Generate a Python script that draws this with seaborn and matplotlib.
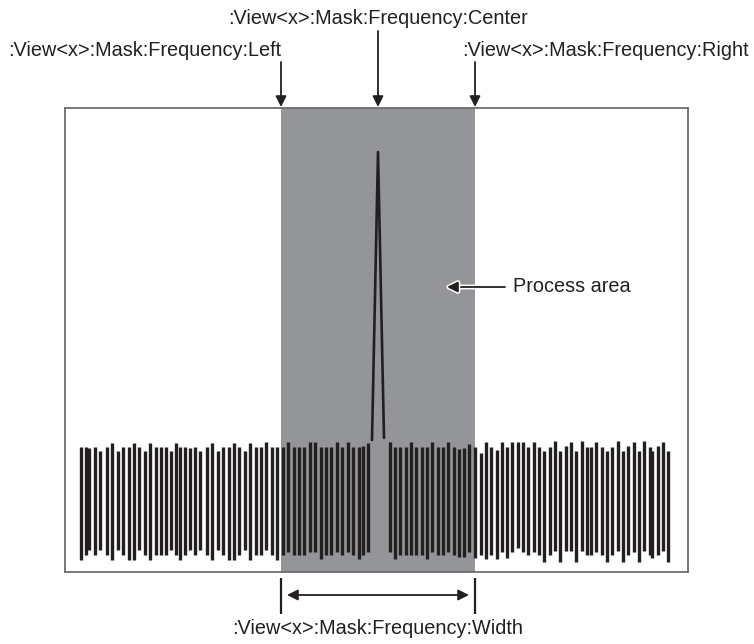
import matplotlib
matplotlib.use("Agg")
import matplotlib.pyplot as plt
import matplotlib.patheffects as pe
import seaborn as sns
import pandas as pd

# ---- data (pixel-like frequency / amplitude units) ----
noise_freq = [80.7, 86.0, 89.3, 94.7, 100.0, 106.7, 112.3, 118.0, 123.3, 129.0, 134.3, 139.3,
              145.0, 150.3, 156.0, 161.3, 166.3, 171.0, 175.7, 180.3, 185.3, 190.0, 194.7, 200.0,
              206.7, 212.3, 217.7, 223.3, 228.7, 234.3, 239.3, 245.0, 250.3, 255.7, 261.0, 266.3,
              271.7, 277.0,
              282.7, 288.3, 293.7, 299.0, 304.3, 310.0, 315.3, 320.7, 326.0, 331.3, 336.7, 342.0,
              347.7, 353.0, 358.7, 363.3, 368.3,
              389.7, 395.0, 400.3, 405.7, 411.0, 416.3, 421.7, 427.0, 432.3, 437.7, 443.0, 448.3,
              453.7, 459.0,
              464.0, 469.3, 475.0, 480.7, 486.0, 491.3, 496.7, 501.7, 507.0, 512.3, 517.7, 523.0,
              528.3, 533.7, 539.0, 544.3, 549.7, 555.0, 560.3, 565.7, 571.0, 576.3, 581.7, 587.0,
              591.0, 596.3, 601.7, 607.0, 612.3, 617.7, 623.0, 628.3, 633.7, 639.0, 644.3, 649.7,
              652.3, 657.7, 663.0, 668.3]
noise_top = [446.7, 446.7, 447.7, 446.7, 450.7, 446.7, 443.3, 450.7, 446.7, 446.7, 443.3, 446.7,
             450.7, 443.3, 446.7, 446.7, 446.7, 450.7, 443.3, 446.7, 446.7, 448.3, 446.7, 450.7,
             446.7, 443.3, 450.7, 446.7, 446.7, 443.3, 446.7, 450.7, 443.3, 446.7, 446.7, 442.3,
             446.7, 446.7,
             446.7, 442.3, 446.7, 446.7, 446.7, 442.3, 442.3, 446.7, 446.7, 446.7, 442.3, 446.7,
             442.3, 446.7, 446.7, 445.7, 443.3,
             442.3, 446.7, 446.7, 446.7, 442.3, 446.7, 446.7, 446.7, 442.3, 446.7, 446.7, 442.3,
             446.7, 449.0,
             448.3, 444.0, 446.7, 453.3, 442.3, 446.7, 450.0, 442.3, 446.7, 442.3, 442.3, 442.3,
             446.7, 442.3, 446.7, 451.0, 446.7, 441.0, 451.0, 445.7, 442.3, 451.0, 441.0, 446.7,
             446.7, 442.3, 446.7, 451.0, 446.7, 441.0, 451.0, 445.7, 442.3, 451.0, 441.0, 446.7,
             451.0, 445.7, 442.3, 451.0]
noise_bottom = [560, 555, 550, 555, 550, 555, 560, 550, 555, 560, 560, 550,
                555, 560, 555, 555, 555, 550, 555, 560, 555, 550, 555, 550,
                555, 560, 550, 555, 560, 560, 555, 550, 560, 555, 555, 550,
                555, 560,
                555, 551.7, 555, 555, 555, 551.7, 551.7, 559.3, 555, 555, 551.7, 555,
                551.7, 555, 559.3, 555, 551.7,
                551.7, 559.3, 555, 555, 555, 555, 555, 559.3, 551.7, 555, 555, 551.7,
                555, 557.3,
                556.7, 551.7, 558.3, 555, 559.3, 555, 559.3, 551.7, 558.3, 551.7, 548.3, 551.7,
                555, 551.7, 555, 561.7, 555, 550.7, 561.7, 550.7, 550.7, 561.7, 550.7, 555,
                555, 551.7, 555, 561.7, 555, 550.7, 561.7, 555, 551.7, 561.7, 550.7, 555,
                558.3, 555, 550.7, 561.7]

peak_freq = [372, 378, 384]
peak_amp = [440, 152, 438]

mask_left, mask_center, mask_right = 281, 378, 475

label_center = ":View<x>:Mask:Frequency:Center"
label_left = ":View<x>:Mask:Frequency:Left"
label_right = ":View<x>:Mask:Frequency:Right"
label_width = ":View<x>:Mask:Frequency:Width"
label_area = "Process area"

# ---- style ----
sns.set_theme(style="white")
plt.rcParams["font.family"] = ["Liberation Sans", "DejaVu Sans"]

W, H = 754, 644
fig = plt.figure(figsize=(W / 100, H / 100), dpi=100)
box_l, box_r, box_t, box_b = 65, 688, 108, 572
ax = fig.add_axes([box_l / W, 1 - box_b / H, (box_r - box_l) / W, (box_b - box_t) / H])
ax.set_xlim(box_l, box_r)
ax.set_ylim(box_b, box_t)
ax.set_xticks([])
ax.set_yticks([])
for s in ax.spines.values():
    s.set_color("#6d6e71")
    s.set_linewidth(1.3)

ink = "#231f20"
ax.axvspan(mask_left, mask_right, color="#939598", lw=0, zorder=0)
ax.vlines(noise_freq, noise_top, noise_bottom, colors=ink, linewidth=2.4, zorder=2)

peak_df = pd.DataFrame({"freq": peak_freq, "amp": peak_amp})
sns.lineplot(data=peak_df, x="freq", y="amp", sort=False, estimator=None,
             color=ink, linewidth=1.9, ax=ax, legend=False, zorder=3)
ax.set_xlabel("")
ax.set_ylabel("")

fs = 14.3
arrow_kw = dict(arrowstyle="-|>", color=ink, lw=1.3, mutation_scale=16,
                shrinkA=0, shrinkB=0)

# top labels and arrows
ax.text(mask_center, 18, label_center, ha="center", va="center", fontsize=fs,
        color=ink, clip_on=False)
ax.text(8, 50, label_left, ha="left", va="center", fontsize=fs, color=ink, clip_on=False)
ax.text(749, 50, label_right, ha="right", va="center", fontsize=fs, color=ink, clip_on=False)
ax.annotate("", xy=(mask_left, 107), xytext=(mask_left, 62), arrowprops=arrow_kw,
            annotation_clip=False)
ax.annotate("", xy=(mask_center, 107), xytext=(mask_center, 31), arrowprops=arrow_kw,
            annotation_clip=False)
ax.annotate("", xy=(mask_right, 107), xytext=(mask_right, 62), arrowprops=arrow_kw,
            annotation_clip=False)

# width indicator
ax.vlines([mask_left, mask_right], 578, 614, colors=ink, linewidth=1.6, clip_on=False)
ax.annotate("", xy=(mask_left + 6, 595), xytext=(mask_right - 6, 595),
            arrowprops=dict(arrowstyle="<|-|>", color=ink, lw=1.3, mutation_scale=16,
                            shrinkA=0, shrinkB=0),
            annotation_clip=False)
ax.text(mask_center, 628, label_width, ha="center", va="center", fontsize=fs, color=ink,
        clip_on=False)

# process area
ax.annotate("", xy=(447, 287), xytext=(505, 287),
            arrowprops=dict(arrowstyle="-|>", color=ink, lw=1.3, mutation_scale=16,
                            shrinkA=0, shrinkB=0,
                            path_effects=[pe.withStroke(linewidth=3.5, foreground="white")]))
ax.text(513, 287, label_area, ha="left", va="center", fontsize=fs, color=ink)

fig.savefig("out.png", dpi=100)
